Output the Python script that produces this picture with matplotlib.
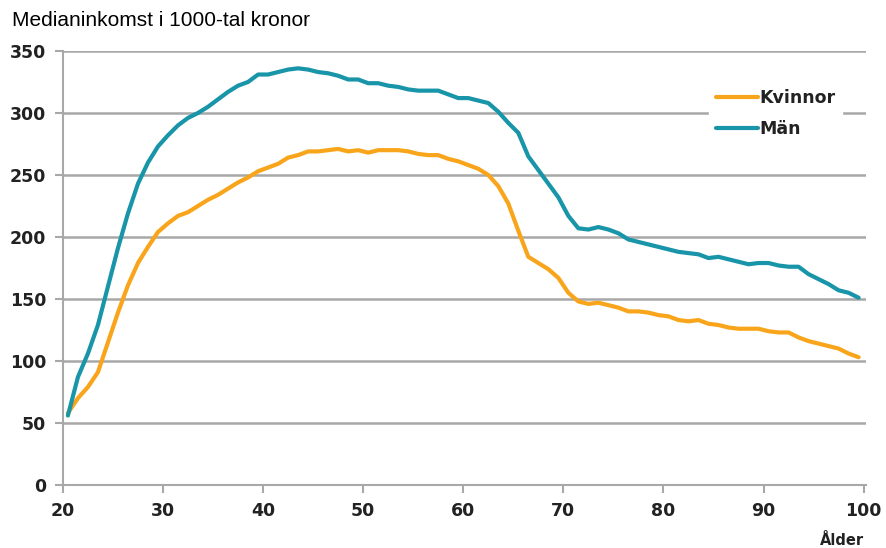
import numpy as np
import matplotlib
matplotlib.use("Agg")
import matplotlib.pyplot as plt

# median income (1000 SEK) per age, 20..99
ages = list(range(20, 100))
kvinnor = [58, 70, 79, 91, 115, 139, 161, 179, 192, 204,
           211, 217, 220, 225, 230, 234, 239, 244, 248, 253,
           256, 259, 264, 266, 269, 269, 270, 271, 269, 270,
           268, 270, 270, 270, 269, 267, 266, 266, 263, 261,
           258, 255, 250, 241, 227, 205, 184, 179, 174, 167,
           155, 148, 146, 147, 145, 143, 140, 140, 139, 137,
           136, 133, 132, 133, 130, 129, 127, 126, 126, 126,
           124, 123, 123, 119, 116, 114, 112, 110, 106, 103]
man = [56, 87, 106, 129, 160, 191, 219, 243, 260, 273,
       282, 290, 296, 300, 305, 311, 317, 322, 325, 331,
       331, 333, 335, 336, 335, 333, 332, 330, 327, 327,
       324, 324, 322, 321, 319, 318, 318, 318, 315, 312,
       312, 310, 308, 301, 292, 284, 265, 254, 243, 232,
       217, 207, 206, 208, 206, 203, 198, 196, 194, 192,
       190, 188, 187, 186, 183, 184, 182, 180, 178, 179,
       179, 177, 176, 176, 170, 166, 162, 157, 155, 151]
yticks = [0, 50, 100, 150, 200, 250, 300, 350]
xticks = [20, 30, 40, 50, 60, 70, 80, 90, 100]

orange = '#F9A51B'
teal = '#1895A8'
grid = '#A8A8A8'

fig = plt.figure(figsize=(8.86, 5.48), dpi=100)
ax = fig.add_axes([0.071, 0.115, 0.906, 0.792])

# Excel category axis puts each age at the centre of its year
x = np.array(ages) + 0.5
ax.plot(x, kvinnor, color=orange, lw=3, label='Kvinnor', solid_capstyle='round')
ax.plot(x, man, color=teal, lw=3, label='Män', solid_capstyle='round')

ax.set_xlim(20, 100.2)
ax.set_ylim(0, 350)
ax.set_yticks(yticks)
ax.set_xticks(xticks)
ax.yaxis.grid(True, color=grid, lw=1.8)
ax.set_axisbelow(True)

for s in ['top', 'right']:
    ax.spines[s].set_visible(False)
for s in ['left', 'bottom']:
    ax.spines[s].set_color(grid)
    ax.spines[s].set_linewidth(1.5)

ax.tick_params(axis='both', colors=grid, width=1.5, length=6, labelcolor='#222222',
               labelsize=12.5)
ax.tick_params(axis='y', pad=6)
ax.tick_params(axis='x', pad=6)
for lab in ax.get_xticklabels() + ax.get_yticklabels():
    lab.set_fontweight('bold')

fig.text(0.013, 0.962, 'Medianinkomst i 1000-tal kronor', fontsize=15,
         family='Liberation Sans', va='center', ha='left')
fig.text(0.975, 0.0, 'Ålder', fontsize=10.5, fontweight='bold',
         color='#222222', ha='right', va='bottom')

leg = ax.legend(loc='upper right', bbox_to_anchor=(0.982, 0.948), frameon=True,
                fancybox=False, edgecolor='white', facecolor='white', framealpha=1,
                handlelength=2.4, handletextpad=0.1, labelspacing=0.75,
                prop={'weight': 'bold', 'size': 12.5}, borderpad=0.4)
for t in leg.get_texts():
    t.set_color('#222222')

fig.savefig('out.png', dpi=100)
